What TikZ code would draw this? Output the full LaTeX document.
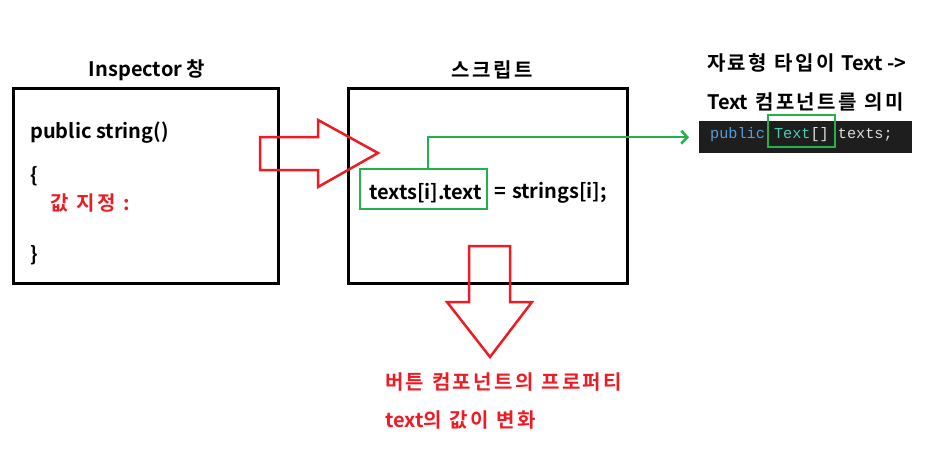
\documentclass[tikz,border=0pt]{standalone}
\usepackage{fontspec}
\setmainfont{Noto Sans CJK KR}[BoldFont={Noto Sans CJK KR Bold}]
\newfontfamily\codefont{Liberation Mono}
\newcommand{\kr}[1]{{\addfontfeature{LetterSpace=12}\spaceskip=0.38em#1}}
\usetikzlibrary{arrows.meta}

\definecolor{mkred}{HTML}{ED1C24}
\definecolor{mkgreen}{HTML}{22B14C}
\definecolor{codebg}{HTML}{1E1E1E}
\definecolor{kwblue}{HTML}{569CD6}
\definecolor{typeteal}{HTML}{4EC9B0}
\definecolor{codefg}{HTML}{DCDCDC}

\tikzset{
  lbl/.style={font=\fontsize{20}{24}\selectfont\bfseries, inner sep=0pt},
  panel/.style={draw, line width=3pt, minimum width=#1, minimum height=195pt, inner sep=0pt},
  blockarrow/.style={draw=mkred, line width=2.5pt, line join=miter},
  hlbox/.style={draw=mkgreen, line width=2.5pt, inner sep=0pt}
}

\begin{document}
\begin{tikzpicture}[x=1pt, y=-1pt, >=stealth]
  \useasboundingbox (0,0) rectangle (943,455);

  % --- 1. 두 개의 창 ---
  \node[panel=265pt] (insp) at (145.5,185.5) {};
  \node[panel=279pt] (script) at (487.5,185.5) {};
  \node[lbl] (insptitle) at (147,70) {Inspector \kr{창}};
  \node[lbl] (scripttitle) at (492,70) {\kr{스크립트}};

  % Inspector 창 안의 코드
  \node[lbl, anchor=west] (pubstr) at (30,133) {public string()};
  \node[lbl, anchor=west] (lbrace) at (30,176) {\{};
  \node[lbl, anchor=west, text=mkred] (setval) at (50,203) {\kr{값 지정 :}};
  \node[lbl, anchor=west] (rbrace) at (30,255) {\}};

  % --- 2. 빨간 화살표 (Inspector -> 스크립트) ---
  \draw[blockarrow] (260,137) -- (318,137) -- (318,120) -- (378,153)
    -- (318,187) -- (318,170) -- (260,170) -- cycle;

  % --- 3. 스크립트 안의 대입문 ---
  \node[hlbox, minimum width=127pt, minimum height=40pt] (texthl) at (423.5,189) {};
  \node[lbl, anchor=west] (lhs) at (369,193) {texts[i].text};
  \node[lbl, anchor=west] (rhs) at (494,193) {=\hspace{6pt}strings[i];};

  % --- 4. 오른쪽 설명과 코드 ---
  \node[lbl, anchor=west] (note1) at (707,63) {\kr{자료형 타입이}\hspace{7pt}Text ->};
  \node[lbl, anchor=west] (note2) at (707,102) {Text\hspace{7pt}\kr{컴포넌트를 의미}};
  \node[fill=codebg, minimum width=213pt, minimum height=32pt, inner sep=0pt,
    anchor=north west] (codebox) at (699,121) {};
  \node[anchor=west, inner sep=0pt, font=\codefont\fontsize{15.2}{18}\selectfont]
    (code) at (710,135) {\textcolor{kwblue}{public} \textcolor{typeteal}{Text}\textcolor{codefg}{[]} \textcolor{codefg}{texts;}};
  \node[hlbox, minimum width=67pt, minimum height=32pt] (typehl) at (801.5,131) {};

  % 초록 연결선
  \draw[->, mkgreen, line width=2.5pt, >={Straight Barb[length=6pt,width=13pt]}]
    (texthl.north -| 428,0) |- ([xshift=-10pt]codebox.west);

  % --- 5. 아래쪽 빨간 화살표와 설명 ---
  \draw[blockarrow] (469,246) -- (510,246) -- (510,302) -- (532,302) -- (490,357)
    -- (447,302) -- (469,302) -- cycle;
  \node[lbl, anchor=west, text=mkred] (result1) at (385,382) {\kr{버튼 컴포넌트의 프로퍼티}};
  \node[lbl, anchor=west, text=mkred] (result2) at (385,420) {text\kr{의 값이 변화}};

\end{tikzpicture}
\end{document}
